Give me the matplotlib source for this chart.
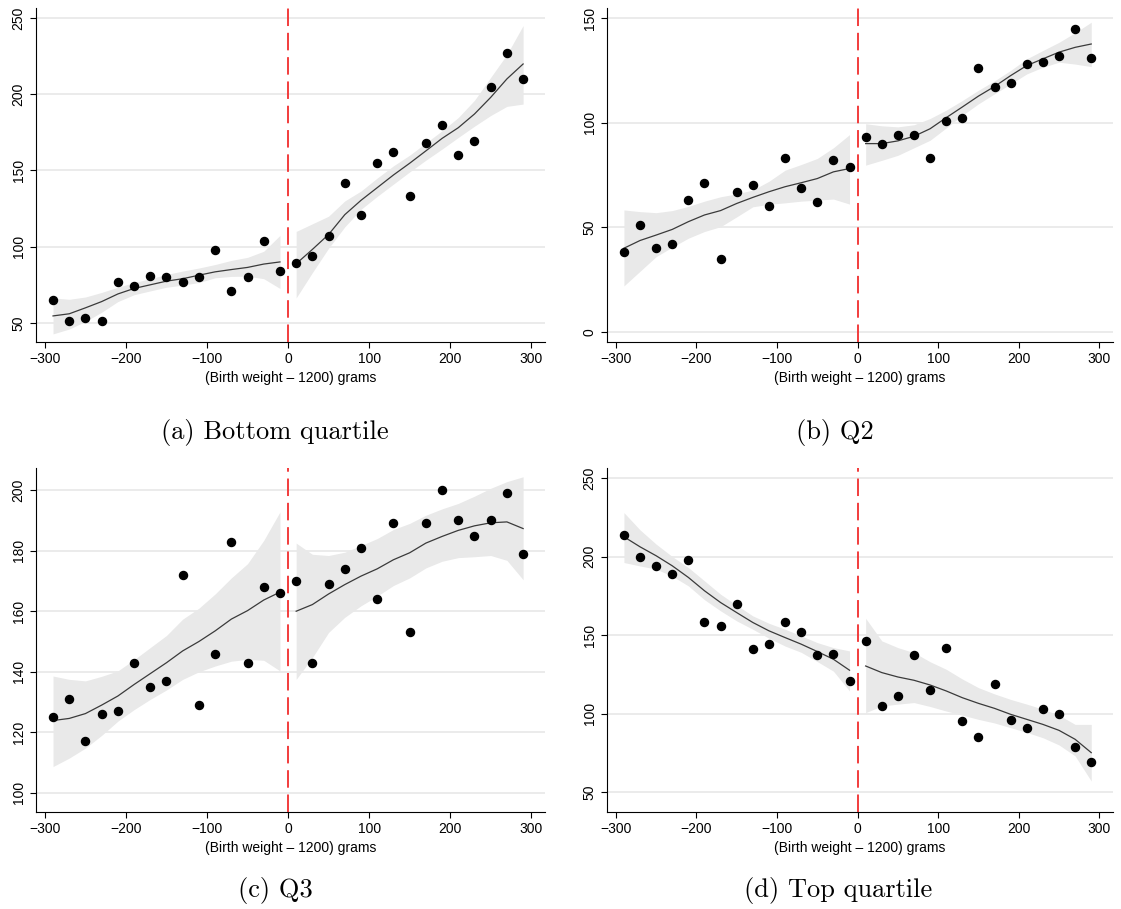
import numpy as np
import matplotlib
matplotlib.use("Agg")
import matplotlib.pyplot as plt

plt.rcParams["font.family"] = ["Liberation Sans", "DejaVu Sans"]

x_left = [-290, -270, -250, -230, -210, -190, -170, -150, -130, -110, -90, -70, -50, -30, -10]
x_right = [10, 30, 50, 70, 90, 110, 130, 150, 170, 190, 210, 230, 250, 270, 290]

# (a) Bottom quartile
a_pts_left = [65, 51, 53, 51, 77, 74, 81, 80, 77, 80, 98, 71, 80, 104, 84]
a_pts_right = [89, 94, 107, 142, 121, 155, 162, 133, 168, 180, 160, 169, 205, 227, 210]
a_fit_left = [54.6, 56, 59.9, 64, 69, 72.6, 75, 77.4, 79, 81.3, 83.5, 85, 86.4, 88.6, 90]
a_up_left = [66.4, 65.5, 67, 70, 73.4, 76.5, 79, 81.8, 84, 86, 88.3, 91, 93, 97, 107.4]
a_lo_left = [42.8, 46, 51, 57, 64, 68.5, 71, 73.4, 74.8, 76.5, 79.6, 80.5, 80.7, 79, 72.6]
a_fit_right = [88.8, 98.2, 108, 121, 130.4, 138.7, 147, 154.7, 162.8, 171, 178, 187, 197.9, 210, 219.8]
a_up_right = [110, 115, 120, 130, 136.5, 145, 153, 160, 168, 176, 184.7, 196, 211, 226, 245]
a_lo_right = [66.4, 83, 99, 113, 124.5, 133, 141, 149, 156.7, 164, 171.6, 179, 186, 192, 193.5]

# (b) Q2
b_pts_left = [38, 51, 40, 42, 63, 71, 35, 67, 70, 60, 83, 69, 62, 82, 79]
b_pts_right = [93, 90, 94, 94, 83, 101, 102, 126, 117, 119, 128, 129, 132, 145, 131]
b_fit_left = [40, 43.7, 46.3, 49, 52.7, 55.9, 58, 61.4, 64.3, 67, 69.4, 71.3, 73.3, 76.5, 78.1]
b_up_left = [58.3, 57.5, 57, 58, 60, 62.5, 64.6, 66, 67.8, 72, 77.3, 80, 82.9, 88, 94.3]
b_lo_left = [22, 29, 36, 40.5, 44.8, 48, 50.3, 55, 59.8, 61, 61.7, 62.5, 63, 63.5, 61.1]
b_fit_right = [90, 90, 91.3, 93.5, 97.1, 102.4, 107.5, 112.7, 117.3, 122.5, 127.3, 130.5, 133.7, 136, 137.6]
b_up_right = [99.5, 98.5, 98, 99, 102, 106, 110.6, 115.5, 120, 125, 130.5, 134.5, 138.4, 143, 148]
b_lo_right = [79.7, 82, 84.4, 88, 91.6, 97.5, 103.5, 109, 113.8, 118.5, 123.3, 126.5, 128.9, 128, 126.8]

# (c) Q3
c_pts_left = [125, 131, 117, 126, 127, 143, 135, 137, 172, 129, 146, 183, 143, 168, 166]
c_pts_right = [170, 143, 169, 174, 181, 164, 189, 153, 189, 200, 190, 185, 190, 199, 179]
c_fit_left = [123.9, 124.6, 126.2, 129, 132, 135.8, 139.4, 143, 146.9, 150, 153.5, 157.4, 160.2, 163.7, 166.3]
c_up_left = [138.6, 137.5, 137, 138.5, 140.3, 144, 148, 152, 157.4, 161, 165.7, 171, 175.7, 183.4, 192.8]
c_lo_left = [108.7, 111.5, 114.8, 119, 123.7, 127.5, 130.9, 134, 137.5, 140, 141.9, 143.5, 144.1, 143.8, 140.3]
c_fit_right = [160, 162.2, 165.7, 168.8, 171.6, 174, 177, 179.3, 182.5, 184.7, 186.7, 188.2, 189.2, 189.5, 187.3]
c_up_right = [182.5, 178.8, 178.4, 179.5, 181.7, 184, 187, 189, 191.7, 193.8, 195.6, 198, 200.6, 202.8, 204.4]
c_lo_right = [137.5, 144.7, 153, 158, 161.8, 165, 168.5, 171, 174.3, 176.5, 177.7, 178, 178.4, 176.8, 170.4]

# (d) Top quartile
d_pts_left = [214, 200, 194, 189, 198, 158, 156, 170, 141, 144, 158, 152, 137, 138, 121]
d_pts_right = [146, 105, 111, 137, 115, 142, 95, 85, 119, 96, 91, 103, 100, 79, 69]
d_fit_left = [212.6, 206.2, 200.5, 194.1, 186.7, 178.2, 170.7, 164.3, 158, 152.7, 148.4, 144.2, 139.5, 134.6, 127.6]
d_up_left = [228, 217, 207.9, 200, 193, 184.5, 176, 169, 162.2, 157.5, 153.7, 149.5, 145.2, 142, 139.9]
d_lo_left = [196.2, 194, 192, 187.5, 181.3, 172.5, 165.4, 159, 153.7, 148, 143, 139, 133.1, 127, 114.4]
d_fit_right = [130.3, 126.1, 123.3, 121.2, 118.2, 114.4, 110.1, 106.5, 103.3, 99.5, 96.3, 93.1, 89.3, 83.6, 75.1]
d_up_right = [160.7, 146.3, 142, 138.8, 133, 128.2, 122, 116.5, 112.5, 109, 106, 102.8, 99, 93.1, 93.1]
d_lo_right = [100.6, 104.8, 106, 107, 104.5, 101.6, 99, 96.3, 94, 91, 88, 84.6, 80, 73, 57]

x_ticks = [-300, -200, -100, 0, 100, 200, 300]
a_yticks = [50, 100, 150, 200, 250]
b_yticks = [0, 50, 100, 150]
c_yticks = [100, 120, 140, 160, 180, 200]
d_yticks = [50, 100, 150, 200, 250]

captions = ["(a) Bottom quartile", "(b) Q2", "(c) Q3", "(d) Top quartile"]

panels = [
    (a_pts_left, a_pts_right, a_fit_left, a_up_left, a_lo_left, a_fit_right, a_up_right, a_lo_right, a_yticks, (37.5, 256.5)),
    (b_pts_left, b_pts_right, b_fit_left, b_up_left, b_lo_left, b_fit_right, b_up_right, b_lo_right, b_yticks, (-4.8, 154.8)),
    (c_pts_left, c_pts_right, c_fit_left, c_up_left, c_lo_left, c_fit_right, c_up_right, c_lo_right, c_yticks, (93.7, 207.3)),
    (d_pts_left, d_pts_right, d_fit_left, d_up_left, d_lo_left, d_fit_right, d_up_right, d_lo_right, d_yticks, (37.3, 256.4)),
]

W, H = 1121, 909
boxes = [(36, 545, 8, 342), (607, 1113, 8, 342), (36, 545, 468, 812), (607, 1113, 468, 812)]
cap_pos = [(275, 433), (835, 433), (275, 890), (838, 890)]

fig = plt.figure(figsize=(W / 100, H / 100), dpi=100)
fig.patch.set_facecolor("white")

for (pl, pr, fl, ul, ll, fr, ur, lr, yt, ylim), (x0, x1, y0, y1), cap, (cx, cy) in zip(panels, boxes, captions, cap_pos):
    ax = fig.add_axes([x0 / W, 1 - y1 / H, (x1 - x0) / W, (y1 - y0) / H])

    for y in yt:
        ax.axhline(y, color="#e6e6e6", lw=1.1, zorder=0) # grid

    ax.fill_between(x_left, ll, ul, color="#e9e9e9", lw=0, zorder=1) # CI
    ax.fill_between(x_right, lr, ur, color="#e9e9e9", lw=0, zorder=1)
    ax.plot(x_left, fl, color="#3a3a3a", lw=0.9, zorder=2) # Fitted
    ax.plot(x_right, fr, color="#3a3a3a", lw=0.9, zorder=2)
    ax.plot(x_left, pl, "o", color="black", ms=5.8, zorder=3) # Bins
    ax.plot(x_right, pr, "o", color="black", ms=5.8, zorder=3)
    ax.axvline(0, color="#f23c3c", lw=1.4, dashes=(9, 3.5), zorder=4) # Cutoff

    ax.set_xlim(-311, 317)
    ax.set_ylim(*ylim)
    ax.set_xticks(x_ticks)
    ax.set_yticks(yt)
    ax.tick_params(labelsize=10, length=4, width=0.8, direction="out")
    plt.setp(ax.get_yticklabels(), rotation=90, va="center")
    ax.set_xlabel("(Birth weight \u2013 1200) grams", fontsize=10, labelpad=3)
    for s in ("top", "right"):
        ax.spines[s].set_visible(False)
    for s in ("left", "bottom"):
        ax.spines[s].set_linewidth(0.8)

    fig.text(cx / W, 1 - cy / H, cap, family="cmr10", fontsize=19, ha="center", va="center")

fig.savefig("out.png", dpi=100)
